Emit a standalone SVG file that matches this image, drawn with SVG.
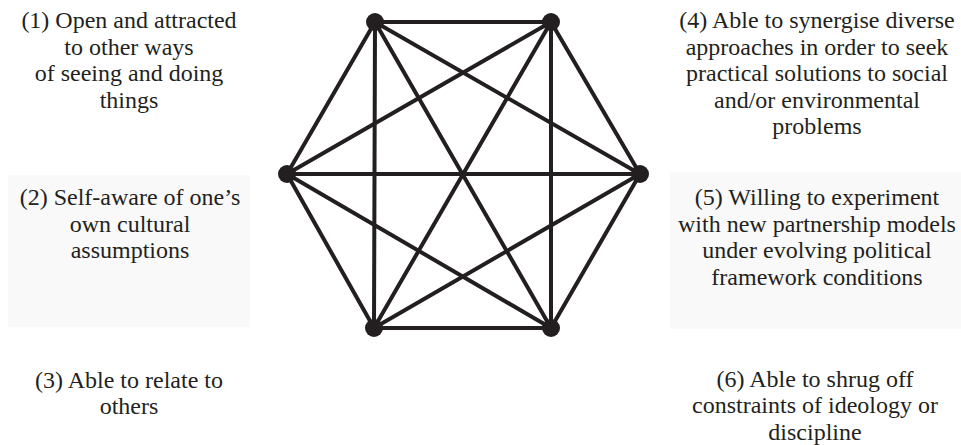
<svg xmlns="http://www.w3.org/2000/svg" width="961" height="445" viewBox="0 0 961 445">
<style>
.t{font-size:24px;fill:#231f20;text-anchor:middle}
.e{stroke:#231f20;stroke-width:4;stroke-linecap:round}
.n{fill:#231f20}
.bg{fill:#f9f9f9}
</style>
<rect width="961" height="445" fill="#fff"/>
<rect class="bg" x="8" y="175" width="242" height="152"/>
<rect class="bg" x="670" y="172" width="291" height="157"/>
<g id="connectors">
<line class="e" x1="375" y1="22" x2="551" y2="22"/>
<line class="e" x1="375" y1="22" x2="287" y2="174"/>
<line class="e" x1="375" y1="22" x2="374" y2="328"/>
<line class="e" x1="375" y1="22" x2="551" y2="328"/>
<line class="e" x1="375" y1="22" x2="640" y2="174"/>
<line class="e" x1="551" y1="22" x2="287" y2="174"/>
<line class="e" x1="551" y1="22" x2="374" y2="328"/>
<line class="e" x1="551" y1="22" x2="551" y2="328"/>
<line class="e" x1="551" y1="22" x2="640" y2="174"/>
<line class="e" x1="287" y1="174" x2="640" y2="174"/>
<line class="e" x1="287" y1="174" x2="374" y2="328"/>
<line class="e" x1="287" y1="174" x2="551" y2="328"/>
<line class="e" x1="640" y1="174" x2="374" y2="328"/>
<line class="e" x1="640" y1="174" x2="551" y2="328"/>
<line class="e" x1="374" y1="328" x2="551" y2="328"/>
</g>
<g id="v1"><circle class="n" cx="375" cy="22" r="9"/></g>
<g id="v2"><circle class="n" cx="551" cy="22" r="9"/></g>
<g id="v3"><circle class="n" cx="287" cy="174" r="9"/></g>
<g id="v4"><circle class="n" cx="640" cy="174" r="9"/></g>
<g id="v5"><circle class="n" cx="374" cy="328" r="9"/></g>
<g id="v6"><circle class="n" cx="551" cy="328" r="9"/></g>
<g font-family="Liberation Serif, Tinos, Times New Roman, DejaVu Serif, serif">
<g id="label1">
<text class="t" x="129" y="28">(1) Open and attracted</text>
<text class="t" x="129" y="55">to other ways</text>
<text class="t" x="129" y="81">of seeing and doing</text>
<text class="t" x="129" y="108">things</text>
</g>
<g id="label2">
<text class="t" x="130" y="205">(2) Self-aware of one’s</text>
<text class="t" x="130" y="232">own cultural</text>
<text class="t" x="130" y="258">assumptions</text>
</g>
<g id="label3">
<text class="t" x="129" y="388">(3) Able to relate to</text>
<text class="t" x="129" y="414">others</text>
</g>
<g id="label4">
<text class="t" x="817" y="28">(4) Able to synergise diverse</text>
<text class="t" x="817" y="55">approaches in order to seek</text>
<text class="t" x="817" y="81">practical solutions to social</text>
<text class="t" x="817" y="108">and/or environmental</text>
<text class="t" x="817" y="134">problems</text>
</g>
<g id="label5">
<text class="t" x="817" y="205">(5) Willing to experiment</text>
<text class="t" x="817" y="232">with new partnership models</text>
<text class="t" x="817" y="258">under evolving political</text>
<text class="t" x="817" y="285">framework conditions</text>
</g>
<g id="label6">
<text class="t" x="815" y="387">(6) Able to shrug off</text>
<text class="t" x="815" y="413">constraints of ideology or</text>
<text class="t" x="815" y="440">discipline</text>
</g>
</g>
</svg>
